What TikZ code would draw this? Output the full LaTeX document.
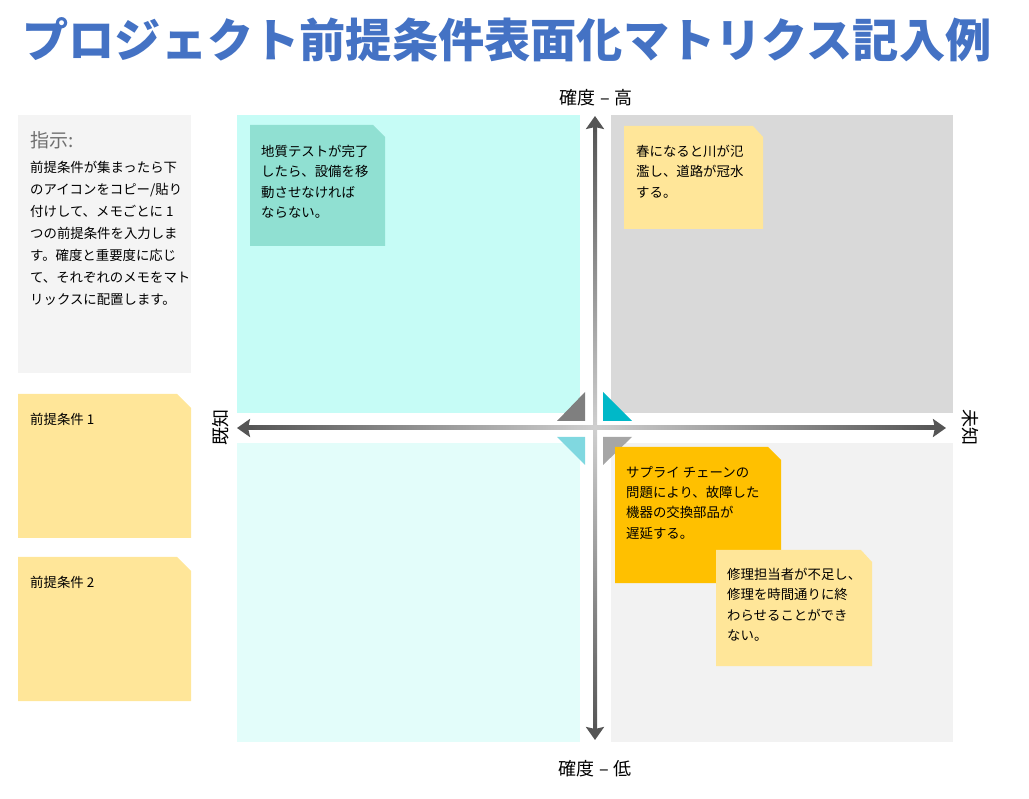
\documentclass[tikz,border=0pt]{standalone}
\usepackage{fontspec}
\setmainfont{Noto Sans CJK JP}
\usetikzlibrary{positioning, calc, arrows.meta}

\definecolor{titleblue}{HTML}{4472C4}
\definecolor{quadtl}{HTML}{C6FCF6}
\definecolor{quadtr}{HTML}{D9D9D9}
\definecolor{quadbl}{HTML}{E3FDFA}
\definecolor{quadbr}{HTML}{F2F2F2}
\definecolor{instrbg}{HTML}{F4F4F4}
\definecolor{headgray}{HTML}{707070}
\definecolor{noteyellow}{HTML}{FFE699}
\definecolor{noteteal}{HTML}{90E0D2}
\definecolor{noteorange}{HTML}{FFC000}
\definecolor{axdark}{HTML}{555555}
\definecolor{axlight}{HTML}{CFCFCF}
\definecolor{tridark}{HTML}{7F7F7F}
\definecolor{tricyan}{HTML}{00B8C8}
\definecolor{tripale}{HTML}{80D8E0}
\definecolor{trigray}{HTML}{A6A6A6}

\begin{document}
\begin{tikzpicture}[x=1pt, y=-1pt,
    memo/.style={anchor=north west, align=left, inner sep=0pt,
                 font=\fontsize{13.4}{20.3}\selectfont},
    axislabel/.style={inner sep=0pt, font=\fontsize{18}{20}\selectfont},
    axtip/.style={draw=axdark, line width=4pt,
                  -{Stealth[length=13pt, width=18pt, inset=2pt]}}]
    \useasboundingbox (0,0) rectangle (1029,799);

    % title
    \node[text=titleblue, font=\fontsize{46.2}{52}\selectfont\bfseries]
        (title) at (507,40) {プロジェクト前提条件表面化マトリクス記入例};

    % the four quadrants
    \fill[quadtl] (237,115) rectangle (580,413);
    \fill[quadtr] (611,115) rectangle (953,413);
    \fill[quadbl] (237,443) rectangle (580,742);
    \fill[quadbr] (611,443) rectangle (953,742);

    % axes
    \coordinate (ctr) at (595,428);
    \coordinate (top) at (595,116);
    \coordinate (bot) at (595,740);
    \coordinate (lft) at (237,428);
    \coordinate (rgt) at (946,428);
    \shade[top color=axdark, bottom color=axlight]
        ($(top)+(-2,10)$) rectangle ($(ctr)+(2,0)$);
    \shade[top color=axlight, bottom color=axdark]
        ($(ctr)+(-2,0)$) rectangle ($(bot)+(2,-10)$);
    \shade[left color=axdark, right color=axlight]
        ($(lft)+(10,-2)$) rectangle ($(ctr)+(0,2)$);
    \shade[left color=axlight, right color=axdark]
        ($(ctr)+(0,-2)$) rectangle ($(rgt)+(-10,2)$);
    \draw[axtip] ($(top)+(0,16)$) -- (top);
    \draw[axtip] ($(bot)+(0,-16)$) -- (bot);
    \draw[axtip] ($(lft)+(16,0)$) -- (lft);
    \draw[axtip] ($(rgt)+(-16,0)$) -- (rgt);

    % corner marks round the centre
    \fill[tridark] (585,392) -- (585,421) -- (557,421) -- cycle;
    \fill[tricyan] (603,392) -- (603,421) -- (632,421) -- cycle;
    \fill[tripale] (557,437) -- (585,437) -- (585,465) -- cycle;
    \fill[trigray] (603,437) -- (632,437) -- (603,465) -- cycle;

    % axis labels
    \node[axislabel] (high) at (596,98) {確度\hspace{5pt}–\hspace{5pt}高};
    \node[axislabel] (low) at (595,769) {確度\hspace{5pt}–\hspace{5pt}低};
    \node[axislabel, rotate=90] (known) at (221,428) {既知};
    \node[axislabel, rotate=-90] (unknown) at (970,428) {未知};

    % instructions
    \fill[instrbg] (18,115) rectangle (191,373);
    \node[anchor=west, inner sep=0pt, text=headgray,
          font=\fontsize{19}{22}\selectfont] (instrhead) at (30,140) {指示:};
    \node[memo, font=\fontsize{13.4}{22}\selectfont,
          below right=12pt and 0pt of instrhead.south west] (instrbody)
        {前提条件が集まったら下\\
         のアイコンをコピー/貼り\\
         付けして、メモごとに 1\\
         つの前提条件を入力しま\\
         す。確度と重要度に応じ\\
         て、それぞれのメモをマト\\
         リックスに配置します。};

    % blank notes
    \fill[noteyellow] (18,394) -- (177,394) -- (191,408) -- (191,538)
        -- (18,538) -- cycle;
    \node[memo] (blank1) at (30,413) {前提条件 1};
    \fill[noteyellow] (18,557) -- (177,557) -- (191,571) -- (191,701)
        -- (18,701) -- cycle;
    \node[memo] (blank2) at (30,576) {前提条件 2};

    % notes in the matrix
    \fill[noteteal] (250,125) -- (373,125) -- (385,137) -- (385,246)
        -- (250,246) -- cycle;
    \node[memo] (geotest) at (261,145)
        {地質テストが完了\\
         したら、設備を移\\
         動させなければ\\
         ならない。};

    \fill[noteyellow] (624,126) -- (753,126) -- (763,137) -- (763,229)
        -- (624,229) -- cycle;
    \node[memo] (flood) at (636,145)
        {春になると川が氾\\
         濫し、道路が冠水\\
         する。};

    \fill[noteorange] (615,447) -- (768,447) -- (781,460) -- (781,583)
        -- (615,583) -- cycle;
    \node[memo] (supply) at (626,466)
        {サプライ チェーンの\\
         問題により、故障した\\
         機器の交換部品が\\
         遅延する。};

    \fill[noteyellow] (716,550) -- (861,550) -- (872,562) -- (872,666)
        -- (716,666) -- cycle;
    \node[memo] (staff) at (727,568)
        {修理担当者が不足し、\\
         修理を時間通りに終\\
         わらせることができ\\
         ない。};
\end{tikzpicture}
\end{document}
